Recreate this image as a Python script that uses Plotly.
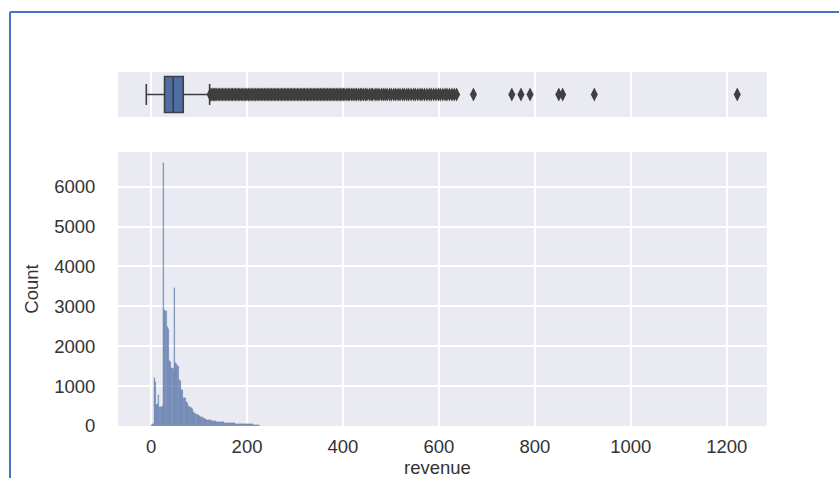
import plotly.graph_objects as go
from plotly.subplots import make_subplots

# ---- data ----
bin_start = 0.0
bin_width = 2.5
hist_counts = [30, 60, 1195, 1100, 525, 560, 775, 485, 480, 490,
               6580, 2900, 2880, 2470, 2440, 1620, 1600, 1450, 1440, 3450,
               1580, 1560, 1500, 1160, 1140, 900, 890, 700, 690, 590,
               570, 510, 470, 450, 420, 340, 320, 300, 285, 270,
               250, 230, 215, 195, 185, 170, 160, 152, 145, 138,
               130, 127, 122, 115, 110, 105, 100, 97, 94, 91,
               88, 85, 82, 79, 76, 73, 70, 68, 66, 64,
               62, 60, 58, 56, 55, 53, 50, 49, 48, 47,
               46, 45, 44, 42, 40, 30, 25, 20, 16, 15,
               12, 8]

box_q1 = 28
box_median = 46
box_q3 = 67
box_low = -10
box_high = 122

outliers = [123, 125, 127, 130, 132, 135, 137, 140, 143, 146, 149, 152, 155, 158,
            161, 164, 167, 170, 173, 176, 179, 182, 185, 188, 191, 194, 197, 200,
            203, 206, 209, 212, 215, 218, 221, 224, 227, 230, 233, 236, 239, 242,
            245, 248, 251, 254, 257, 260, 263, 266, 269, 272, 275, 278, 281, 284,
            287, 290, 293, 296, 299, 302, 305, 308, 311, 314, 317, 320, 323, 326,
            329, 332, 335, 338, 341, 344, 347, 350, 353, 356, 359, 362, 365, 368,
            371, 374, 377, 380, 383, 386, 389, 392, 395, 398, 401, 404, 408, 411,
            414, 418, 421, 425, 428, 432, 436, 439, 443, 447, 450, 455, 459, 462,
            467, 471, 475, 480, 484, 488, 492, 497, 501, 506, 510, 515, 519, 524,
            528, 533, 537, 542, 547, 551, 556, 561, 565, 570, 575, 580, 584, 589,
            594, 599, 603, 608, 613, 617, 622, 627, 632, 637,
            672, 752, 771, 790, 850, 858, 924, 1222]

x_ticks = [0, 200, 400, 600, 800, 1000, 1200]
y_ticks = [0, 1000, 2000, 3000, 4000, 5000, 6000]
x_label = "revenue"
y_label = "Count"

# ---- figure ----
W, H = 839, 478
ML, MR, MT, MB = 118, 72, 72, 52
PW, PH = W - ML - MR, H - MT - MB

def px_x(px):
    return (px - ML) / PW

def px_y(py):
    return (H - MB - py) / PH

fig = make_subplots(rows=2, cols=1, shared_xaxes=False)

centers = [bin_start + bin_width * (i + 0.5) for i in range(len(hist_counts))]

fig.add_trace(go.Box(
    q1=[box_q1], median=[box_median], q3=[box_q3],
    lowerfence=[box_low], upperfence=[box_high],
    y=[0], orientation="h", width=0.8, whiskerwidth=0.58,
    fillcolor="#4c6ea3", line=dict(color="#3f3f3f", width=1.6),
    boxpoints=False, showlegend=False, hoverinfo="skip",
), row=1, col=1)

fig.add_trace(go.Scatter(
    x=outliers, y=[0] * len(outliers), mode="markers",
    marker=dict(symbol="diamond-tall", size=10, color="#3f3f3f",
                line=dict(width=0)),
    showlegend=False, hoverinfo="skip",
), row=1, col=1)

fig.add_trace(go.Bar(
    x=centers, y=hist_counts, width=bin_width,
    marker=dict(color="rgba(76,114,176,0.68)",
                line=dict(color="rgba(60,80,120,0.4)", width=0.3)),
    showlegend=False, hoverinfo="skip",
), row=2, col=1)

font = dict(family="Liberation Sans, Arial, sans-serif", size=18.5, color="#333333")
xr = [-69, 1284]

fig.update_layout(
    width=W, height=H,
    margin=dict(l=ML, r=MR, t=MT, b=MB, autoexpand=False),
    paper_bgcolor="white", plot_bgcolor="#EAEAF2",
    bargap=0, font=font,
    xaxis=dict(domain=[0, 1], range=xr, tickvals=x_ticks, showticklabels=False,
               showgrid=True, gridcolor="white", gridwidth=1.8, zeroline=False,
               showline=False, anchor="y", automargin=False),
    yaxis=dict(domain=[px_y(117), 1], range=[-0.5, 0.5], showticklabels=False,
               showgrid=False, zeroline=False, showline=False, anchor="x",
               automargin=False),
    xaxis2=dict(domain=[0, 1], range=xr, tickvals=x_ticks,
                ticktext=[str(v) for v in x_ticks],
                showgrid=True, gridcolor="white", gridwidth=1.8, zeroline=False,
                showline=False, ticks="outside", ticklen=4,
                tickcolor="rgba(0,0,0,0)", tickfont=font,
                anchor="y2", automargin=False),
    yaxis2=dict(domain=[0, px_y(152)], range=[0, 6867], tickvals=y_ticks,
                ticktext=[str(v) for v in y_ticks],
                showgrid=True, gridcolor="white", gridwidth=1.8, zeroline=False,
                showline=False, ticks="outside", ticklen=18,
                tickcolor="rgba(0,0,0,0)", tickfont=font,
                title=dict(text=y_label, font=font, standoff=10),
                anchor="x2", automargin=False),
)

fig.add_annotation(text=x_label, xref="paper", yref="paper",
                   x=px_x(437), y=px_y(468), showarrow=False,
                   xanchor="center", yanchor="middle", font=font)

# screenshot frame (blue top and left edges)
border = dict(color="#4472C4", width=2)
fig.add_shape(type="line", xref="paper", yref="paper",
              x0=px_x(10), x1=px_x(845), y0=px_y(12), y1=px_y(12), line=border)
fig.add_shape(type="line", xref="paper", yref="paper",
              x0=px_x(10), x1=px_x(10), y0=px_y(12), y1=px_y(500), line=border)

fig.write_html("out.html")
